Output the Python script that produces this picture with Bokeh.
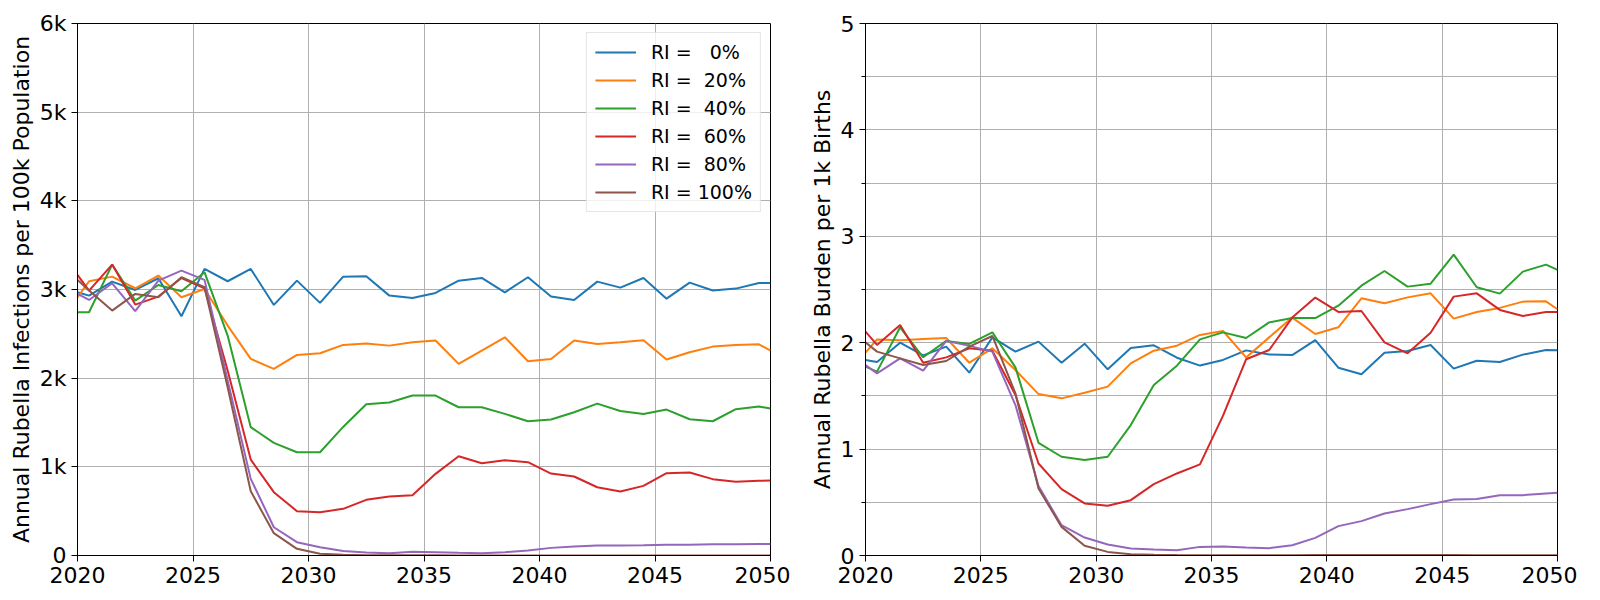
from bokeh.plotting import figure
from bokeh.layouts import row
from bokeh.models import Range1d, FixedTicker
from bokeh.embed import file_html
from bokeh.resources import INLINE

# ---------------- data ----------------
years = [2020, 2020.5, 2021.5, 2022.5, 2023.5, 2024.5, 2025.5, 2026.5, 2027.5, 2028.5,
         2029.5, 2030.5, 2031.5, 2032.5, 2033.5, 2034.5, 2035.5, 2036.5, 2037.5, 2038.5,
         2039.5, 2040.5, 2041.5, 2042.5, 2043.5, 2044.5, 2045.5, 2046.5, 2047.5, 2048.5,
         2049.5, 2050]

series_labels = ["RI =\u00a0\u00a0\u00a00%", "RI =\u00a0\u00a020%", "RI =\u00a0\u00a040%",
                 "RI =\u00a0\u00a060%", "RI =\u00a0\u00a080%", "RI = 100%"]

# Annual infections per 100k population
inf_ri0 = [2969, 2931, 3089, 2995, 3127, 2698, 3232, 3093, 3232, 2826, 3100, 2849, 3145, 3149,
           2931, 2905, 2961, 3100, 3130, 2968, 3138, 2920, 2882, 3089, 3021, 3130, 2897, 3078,
           2988, 3010, 3074, 3074]
inf_ri20 = [2912, 3093, 3145, 3014, 3157, 2912, 3006, 2593, 2217, 2104, 2262, 2281, 2375, 2390,
            2367, 2405, 2424, 2161, 2311, 2461, 2191, 2217, 2424, 2386, 2405, 2428, 2210, 2292,
            2356, 2375, 2382, 2311]
inf_ri40 = [2743, 2743, 3281, 2875, 3051, 2980, 3194, 2480, 1447, 1270, 1165, 1165, 1450, 1706,
            1725, 1804, 1804, 1672, 1672, 1597, 1514, 1533, 1616, 1713, 1630, 1597, 1646, 1537,
            1514, 1650, 1680, 1657]
inf_ri60 = [3164, 2988, 3281, 2830, 2920, 3130, 3014, 2086, 1082, 714, 500, 489, 526, 628,
            665, 680, 921, 1120, 1041, 1075, 1052, 924, 891, 770, 722, 785, 928, 936,
            861, 831, 842, 846]
inf_ri80 = [2950, 2882, 3070, 2755, 3100, 3213, 3108, 1973, 864, 319, 150, 94, 52, 34,
            26, 41, 38, 30, 26, 38, 56, 86, 101, 113, 113, 116, 120, 120,
            128, 128, 131, 131]
inf_ri100 = [3108, 2988, 2762, 2950, 2912, 3138, 3025, 1898, 725, 252, 75, 19, 8, 4,
             3, 2, 2, 1, 1, 1, 1, 1, 1, 1, 1, 1, 1, 1,
             1, 1, 1, 1]

# Annual burden per 1k births
bur_ri0 = [1.837, 1.818, 2.0, 1.881, 1.963, 1.718, 2.05, 1.916, 2.01, 1.812, 1.991, 1.75, 1.95,
           1.975, 1.859, 1.785, 1.838, 1.928, 1.89, 1.884, 2.025, 1.765, 1.703, 1.906, 1.922,
           1.979, 1.756, 1.831, 1.818, 1.888, 1.931, 1.928]
bur_ri20 = [1.906, 2.031, 2.022, 2.035, 2.044, 1.812, 1.947, 1.743, 1.517, 1.477, 1.53, 1.587,
            1.806, 1.925, 1.972, 2.073, 2.11, 1.862, 2.05, 2.236, 2.082, 2.145, 2.417, 2.37,
            2.426, 2.464, 2.226, 2.289, 2.327, 2.386, 2.389, 2.314]
bur_ri40 = [1.775, 1.728, 2.145, 1.863, 2.017, 1.988, 2.098, 1.768, 1.059, 0.928, 0.897, 0.928,
            1.226, 1.602, 1.784, 2.031, 2.097, 2.044, 2.191, 2.232, 2.232, 2.348, 2.536, 2.674,
            2.527, 2.555, 2.828, 2.521, 2.461, 2.668, 2.734, 2.684]
bur_ri60 = [2.104, 1.979, 2.167, 1.812, 1.862, 1.947, 1.925, 1.508, 0.865, 0.624, 0.489, 0.467,
            0.52, 0.671, 0.771, 0.856, 1.314, 1.844, 1.931, 2.236, 2.424, 2.289, 2.298, 2.003,
            1.9, 2.094, 2.433, 2.464, 2.308, 2.251, 2.289, 2.289]
bur_ri80 = [1.79, 1.712, 1.853, 1.737, 2.017, 1.97, 1.916, 1.414, 0.652, 0.285, 0.169, 0.103,
            0.066, 0.056, 0.05, 0.081, 0.085, 0.075, 0.069, 0.097, 0.166, 0.276, 0.323, 0.395,
            0.436, 0.483, 0.527, 0.53, 0.567, 0.567, 0.583, 0.589]
bur_ri100 = [2.003, 1.916, 1.853, 1.79, 1.828, 1.963, 2.063, 1.524, 0.63, 0.269, 0.091, 0.034,
             0.012, 0.006, 0.004, 0.003, 0.003, 0.003, 0.003, 0.003, 0.004, 0.004, 0.004, 0.004,
             0.004, 0.004, 0.004, 0.003, 0.003, 0.003, 0.003, 0.003]

x_ticks = [2020, 2025, 2030, 2035, 2040, 2045, 2050]
left_y_ticks = [0, 1000, 2000, 3000, 4000, 5000, 6000]
left_y_labels = ["0", "1k", "2k", "3k", "4k", "5k", "6k"]
right_y_ticks = [0, 1, 2, 3, 4, 5]
right_y_minor = [0.5, 1.5, 2.5, 3.5, 4.5]

left_title = "Annual Rubella Infections per 100k Population"
right_title = "Annual Rubella Burden per 1k Births"

colors = ["#1f77b4", "#ff7f0e", "#2ca02c", "#d62728", "#9467bd", "#8c564b"]

FONT = "DejaVu Sans"
GRID = "#b0b0b0"


def style(p, ylabel):
    p.background_fill_color = "white"
    p.border_fill_color = "white"
    p.outline_line_color = "black"
    p.outline_line_width = 1
    p.outline_line_alpha = 1
    for ax in (p.xaxis[0], p.yaxis[0]):
        ax.axis_line_color = "black"
        ax.axis_line_width = 1
        ax.major_tick_line_color = "black"
        ax.minor_tick_line_color = "black"
        ax.major_tick_in = 0
        ax.major_tick_out = 6
        ax.minor_tick_in = 0
        ax.minor_tick_out = 0
        ax.major_label_standoff = 5
        ax.major_label_text_font = FONT
        ax.major_label_text_font_size = "22px"
        ax.major_label_text_color = "black"
        ax.axis_label_text_font = FONT
        ax.axis_label_text_font_size = "22px"
        ax.axis_label_text_font_style = "normal"
        ax.axis_label_text_color = "black"
        ax.axis_label_standoff = 3
    p.yaxis[0].axis_label = ylabel
    p.xaxis[0].ticker = FixedTicker(ticks=x_ticks)
    p.xgrid.grid_line_color = GRID
    p.ygrid.grid_line_color = GRID
    p.xgrid.grid_line_width = 1
    p.ygrid.grid_line_width = 1


p1 = figure(width=790, height=595, x_range=Range1d(2020, 2050), y_range=Range1d(0, 6000),
            output_backend="svg", toolbar_location=None,
            min_border_left=77, min_border_right=20, min_border_top=23, min_border_bottom=40)
style(p1, left_title)
p1.yaxis[0].ticker = FixedTicker(ticks=left_y_ticks)
p1.yaxis[0].major_label_overrides = dict(zip(left_y_ticks, left_y_labels))

left_series = [inf_ri0, inf_ri20, inf_ri40, inf_ri60, inf_ri80, inf_ri100]
for vals, c, lab in zip(left_series, colors, series_labels):
    p1.line(years, vals, line_color=c, line_width=2, legend_label=lab)

lg = p1.legend[0]
lg.location = "top_right"
lg.margin = 9
lg.padding = 8
lg.spacing = 6
lg.glyph_width = 41
lg.glyph_height = 22
lg.label_height = 22
lg.label_standoff = 15
lg.label_text_font = FONT
lg.label_text_font_size = "19px"
lg.label_text_color = "black"
lg.border_line_color = "#cccccc"
lg.border_line_width = 1
lg.background_fill_color = "white"
lg.background_fill_alpha = 0.8

p2 = figure(width=787, height=595, x_range=Range1d(2020, 2050), y_range=Range1d(0, 5),
            output_backend="svg", toolbar_location=None,
            min_border_left=75, min_border_right=20, min_border_top=23, min_border_bottom=40)
style(p2, right_title)
p2.yaxis[0].ticker = FixedTicker(ticks=right_y_ticks, minor_ticks=right_y_minor)
p2.yaxis[0].minor_tick_out = 4
p2.ygrid.minor_grid_line_color = GRID
p2.ygrid.minor_grid_line_width = 1

right_series = [bur_ri0, bur_ri20, bur_ri40, bur_ri60, bur_ri80, bur_ri100]
for vals, c in zip(right_series, colors):
    p2.line(years, vals, line_color=c, line_width=2)

layout = row(p1, p2)
open("out.html", "w").write(file_html(layout, INLINE))
